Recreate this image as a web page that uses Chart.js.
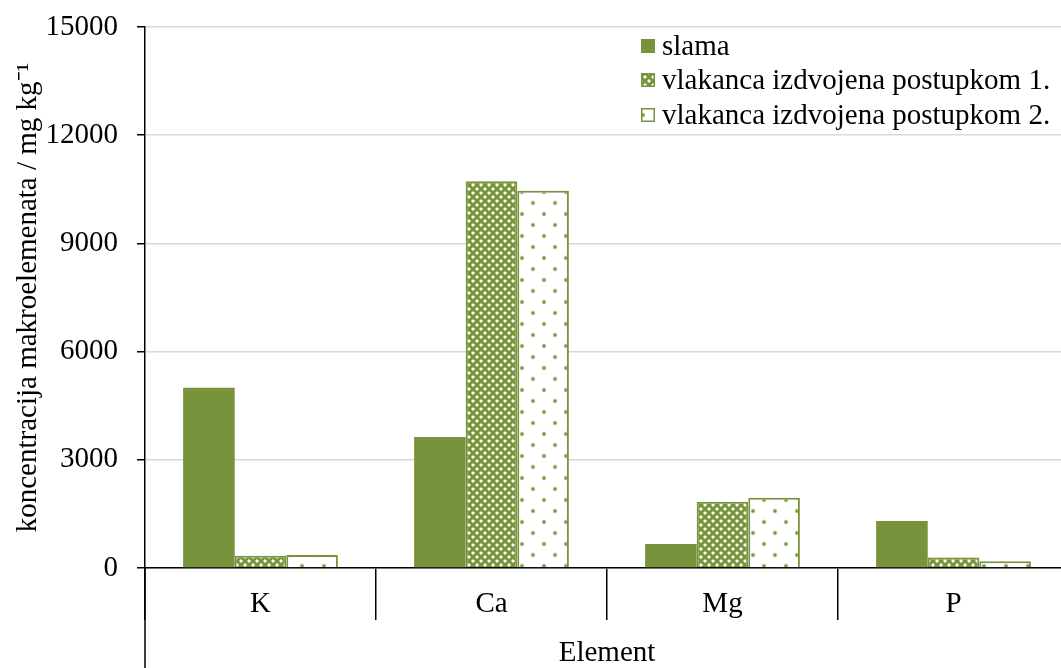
<!DOCTYPE html>
<html>
<head>
<meta charset="utf-8">
<script src="https://cdn.jsdelivr.net/npm/chart.js@4/dist/chart.umd.min.js"></script>
<style>
  html, body { margin: 0; padding: 0; background: #fff; overflow: hidden; }
  #wrap { position: relative; width: 1069px; height: 668px; }
</style>
</head>
<body>
<div id="wrap">
  <canvas id="c" width="1069" height="668"></canvas>
</div>
<script>
const categories = ['K', 'Ca', 'Mg', 'P'];
const seriesNames = ['slama', 'vlakanca izdvojena postupkom 1.', 'vlakanca izdvojena postupkom 2.'];
const slama = [5000, 3630, 665, 1300];
const postupak1 = [340, 10720, 1840, 290];
const postupak2 = [360, 10460, 1945, 185];
const yTicks = [0, 3000, 6000, 9000, 12000, 15000];

const GREEN = '#77933C';
const FONT = '"Liberation Serif", "Times New Roman", serif';
const FS = 29;

function tile(w, h, draw) {
  const c = document.createElement('canvas');
  c.width = w; c.height = h;
  draw(c.getContext('2d'));
  return c;
}
const tile1 = tile(8, 8, g => {
  g.fillStyle = GREEN; g.fillRect(0, 0, 8, 8);
  const halo = '#b7ca93';
  g.fillStyle = halo;
  [[0,0],[4,4]].forEach(([x, y]) => {
    g.fillRect((x + 7) % 8, y, 1, 2);
    g.fillRect((x + 2) % 8, y, 1, 2);
    g.fillRect(x, (y + 7) % 8, 2, 1);
    g.fillRect(x, (y + 2) % 8, 2, 1);
  });
  g.fillStyle = '#ffffff';
  g.fillRect(0, 0, 2, 2); g.fillRect(4, 4, 2, 2);
});
const tile2 = tile(22, 22, g => {
  g.fillStyle = '#ffffff'; g.fillRect(0, 0, 22, 22);
  [[5, 5], [16, 16]].forEach(([x, y]) => {
    g.fillStyle = '#c9d8ad';
    g.beginPath(); g.arc(x, y, 2.4, 0, Math.PI * 2); g.fill();
    g.fillStyle = GREEN;
    g.beginPath(); g.arc(x, y, 1.5, 0, Math.PI * 2); g.fill();
  });
});
const ctx = document.getElementById('c').getContext('2d');
const pat1 = ctx.createPattern(tile1, 'repeat');
const pat2 = ctx.createPattern(tile2, 'repeat');

const decorations = {
  id: 'decorations',
  afterDraw(chart) {
    const { ctx, chartArea } = chart;
    ctx.save();
    // left axis line continues down to the bottom edge
    ctx.strokeStyle = '#000';
    ctx.lineWidth = 1.5;
    ctx.beginPath();
    ctx.moveTo(chartArea.left, chartArea.bottom);
    ctx.lineTo(chartArea.left, chart.height);
    ctx.stroke();
    // legend
    const lx = 641, rows = [46, 80, 115], box = 14;
    ctx.font = `${FS}px ${FONT}`;
    ctx.textBaseline = 'middle';
    ctx.textAlign = 'left';
    chart.data.datasets.forEach((ds, i) => {
      const cy = rows[i];
      ctx.fillStyle = ds.backgroundColor;
      ctx.fillRect(lx, cy - box / 2, box, box);
      if (ds.borderWidth) {
        ctx.strokeStyle = ds.borderColor;
        ctx.lineWidth = 1.5;
        ctx.strokeRect(lx + 0.75, cy - box / 2 + 0.75, box - 1.5, box - 1.5);
      }
      ctx.fillStyle = '#000';
      ctx.fillText(ds.label, lx + 21, cy + 1);
    });
    ctx.restore();
  }
};

Chart.defaults.font.family = FONT;
Chart.defaults.color = '#000';

new Chart(ctx, {
  type: 'bar',
  data: {
    labels: categories,
    datasets: [
      { label: seriesNames[0], data: slama, backgroundColor: GREEN, borderWidth: 0 },
      { label: seriesNames[1], data: postupak1, backgroundColor: pat1, borderColor: GREEN, borderWidth: 2 },
      { label: seriesNames[2], data: postupak2, backgroundColor: pat2, borderColor: GREEN, borderWidth: 2 }
    ]
  },
  options: {
    responsive: false,
    animation: false,
    events: [],
    layout: { padding: { top: 27, right: 0, left: 0, bottom: 0 } },
    datasets: { bar: { categoryPercentage: 0.67, barPercentage: 1.0 } },
    plugins: { legend: { display: false }, tooltip: { enabled: false } },
    scales: {
      x: {
        offset: true,
        grid: { offset: true, drawOnChartArea: false, drawTicks: true, tickLength: 52, color: '#000', lineWidth: 1.5 },
        border: { color: '#000', width: 1.5 },
        ticks: { font: { size: FS }, padding: -33, maxRotation: 0 },
        title: { display: true, text: 'Element', font: { size: FS, lineHeight: 1 }, padding: { top: 0, bottom: 0 } },
        afterFit(s) { s.height = 100; s.paddingLeft = 0; s.paddingRight = 0; }
      },
      y: {
        min: 0, max: 15000,
        afterBuildTicks(s) { s.ticks = yTicks.map(v => ({ value: v })); },
        grid: { color: '#d9d9d9', lineWidth: 1.5, tickColor: '#000', tickLength: 8 },
        border: { color: '#000', width: 1.5 },
        ticks: { font: { size: FS }, padding: 19, callback: v => String(v) },
        title: { display: true, text: 'koncentracija makroelemenata / mg kg⁻¹', font: { size: FS, lineHeight: 1.2 }, padding: { top: 11, bottom: 0 } },
        afterFit(s) { s.width = 145; s.paddingTop = 0; s.paddingBottom = 0; }
      }
    }
  },
  plugins: [decorations]
});
</script>
</body>
</html>
